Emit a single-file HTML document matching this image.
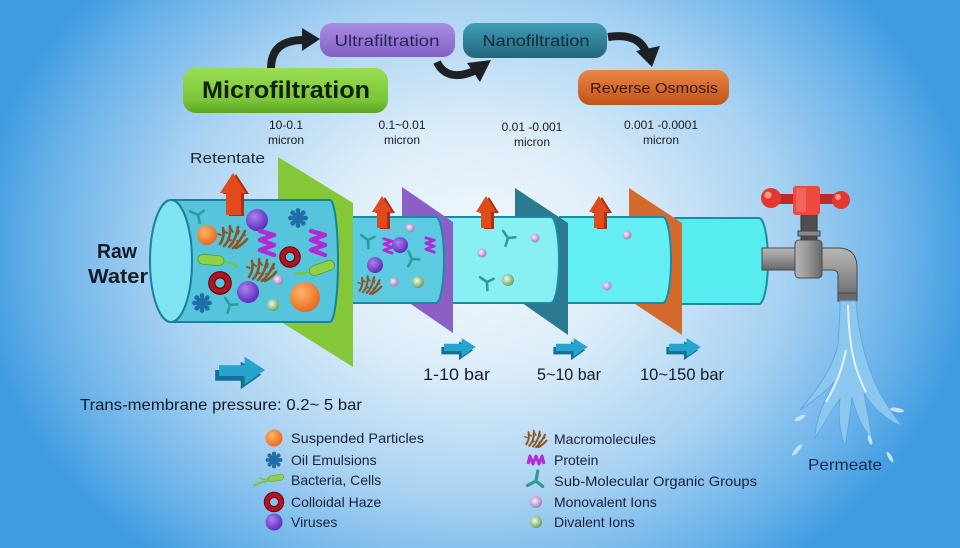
<!DOCTYPE html>
<html><head><meta charset="utf-8"><style>
html,body{margin:0;padding:0;}
body{width:960px;height:548px;overflow:hidden;background:radial-gradient(ellipse 500px 400px at 475px 250px,#f3f9fd 0%,#dcedf9 30%,#a9d2f2 62%,#6db4ea 85%,#3f9ce0 100%);}
svg{display:block;font-family:"Liberation Sans",sans-serif;}
</style></head><body>
<svg width="960" height="548" viewBox="0 0 960 548" xmlns="http://www.w3.org/2000/svg">
<defs>
<radialGradient id="gOr" cx="0.38" cy="0.35" r="0.7"><stop offset="0" stop-color="#ffb46a"/><stop offset="1" stop-color="#e5661a"/></radialGradient>
<radialGradient id="gPu" cx="0.38" cy="0.35" r="0.7"><stop offset="0" stop-color="#a883ee"/><stop offset="1" stop-color="#5b24b8"/></radialGradient>
<radialGradient id="gPk" cx="0.4" cy="0.4" r="0.65"><stop offset="0" stop-color="#fbeefb"/><stop offset="1" stop-color="#a172bb"/></radialGradient>
<radialGradient id="gGn" cx="0.4" cy="0.4" r="0.65"><stop offset="0" stop-color="#f2ffe6"/><stop offset="1" stop-color="#5e9a55"/></radialGradient>
<linearGradient id="bMicro" x1="0" y1="0" x2="0" y2="1"><stop offset="0" stop-color="#98de52"/><stop offset="0.7" stop-color="#7cc63a"/><stop offset="1" stop-color="#5aa522"/></linearGradient>
<linearGradient id="bUltra" x1="0" y1="0" x2="0" y2="1"><stop offset="0" stop-color="#a98ee2"/><stop offset="1" stop-color="#8160c6"/></linearGradient>
<linearGradient id="bNano" x1="0" y1="0" x2="0" y2="1"><stop offset="0" stop-color="#3f9db5"/><stop offset="1" stop-color="#23667c"/></linearGradient>
<linearGradient id="bRO" x1="0" y1="0" x2="0" y2="1"><stop offset="0" stop-color="#ea8644"/><stop offset="1" stop-color="#c0531b"/></linearGradient>
<linearGradient id="pipe" x1="0" y1="0" x2="0" y2="1"><stop offset="0" stop-color="#b8b8b8"/><stop offset="0.4" stop-color="#9a9a9a"/><stop offset="1" stop-color="#666"/></linearGradient>
<linearGradient id="pipeV" x1="0" y1="0" x2="1" y2="0"><stop offset="0" stop-color="#b5b5b5"/><stop offset="0.5" stop-color="#959595"/><stop offset="1" stop-color="#686868"/></linearGradient>

<g id="oil"><circle r="6" fill="#1f6ea8"/><g fill="#1f6ea8"><circle cx="0" cy="-7.5" r="2.4"/><circle cx="5.3" cy="-5.3" r="2.4"/><circle cx="7.5" cy="0" r="2.4"/><circle cx="5.3" cy="5.3" r="2.4"/><circle cx="0" cy="7.5" r="2.4"/><circle cx="-5.3" cy="5.3" r="2.4"/><circle cx="-7.5" cy="0" r="2.4"/><circle cx="-5.3" cy="-5.3" r="2.4"/></g></g>
<g id="ring"><circle r="7.5" fill="none" stroke="#5a0610" stroke-width="6.5"/><circle r="7.5" fill="none" stroke="#b3121e" stroke-width="4.5"/></g>
<g id="ysym" stroke="#2c9c98" stroke-width="2.6" stroke-linecap="round" fill="none"><path d="M0,0 L-6,-6 M0,0 L7,-2 M0,0 L-1,8"/></g>
<g id="macro" stroke="#8a5424" stroke-width="2.6" stroke-linecap="round" fill="none"><path d="M-13,7 Q-8,0 -10,-9 M-9,9 Q-2,2 -3,-11 M-4,10 Q3,3 5,-10 M0,11 Q7,5 12,-6 M3,11 Q9,8 14,2"/><path d="M-12,-2 l-3,-1 M-6,-4 l-3,-2 M0,-5 l-2,-3 M5,-3 l1,-3 M9,0 l3,-2 M-2,3 l-3,1 M4,4 l3,0" stroke-width="1.8"/></g>
<g id="protein"><polyline points="-7,-12 7,-8 -7,-3 7,2 -7,7 7,12" fill="none" stroke="#b22ad6" stroke-width="4.5" stroke-linejoin="round" stroke-linecap="round"/></g>
<g id="bact"><path d="M12,1 Q20,0 26,4" stroke="#7cc33a" stroke-width="2.5" fill="none" stroke-linecap="round"/><rect x="-13" y="-5" width="26" height="10" rx="5" fill="#8fd147" stroke="#5a9a25" stroke-width="0.8"/></g>
<g id="rArrow"><polygon points="0,-21 13,-1 8,-1 8,21 -7,21 -7,-1 -13,-1" fill="#a8300e" transform="translate(3,1)"/><polygon points="0,-21 13,-1 8,-1 8,21 -7,21 -7,-1 -13,-1" fill="#e04a1c"/></g>
<g id="rArrowS"><polygon points="0,-16 10,0 5,0 5,16 -5,16 -5,0 -10,0" fill="#a8300e" transform="translate(3,1)"/><polygon points="0,-16 10,0 5,0 5,16 -5,16 -5,0 -10,0" fill="#e04a1c"/></g>
<g id="bArrow"><polygon points="0,-4 20,-4 20,-11 36,0 20,12 20,5 0,5" fill="#136f96" transform="translate(-3,4)"/><polygon points="0,-4 20,-4 20,-11 36,0 20,12 20,5 0,5" fill="#26a4cd"/></g>
</defs>

<!-- top curved arrows -->
<g fill="none" stroke="#1d2125" stroke-width="8" stroke-linecap="butt">
<path d="M271,69 C271,50 281,40 304,40"/>
<path d="M437,62 C443,75 456,79 474,71"/>
<path d="M608,37 C628,34 641,39 646,52"/>
</g>
<g fill="#1d2125">
<polygon points="320,39 302,28 302,51"/>
<polygon points="491,60 467,63 480,82"/>
<polygon points="652,67 636,51 660,46"/>
</g>

<!-- boxes -->
<rect x="183" y="68" width="205" height="45" rx="13" fill="url(#bMicro)"/>
<text x="286" y="98" text-anchor="middle" font-size="24" font-weight="bold" fill="#13200c" textLength="168" lengthAdjust="spacingAndGlyphs">Microfiltration</text>
<rect x="320" y="23" width="135" height="34" rx="12" fill="url(#bUltra)"/>
<text x="387" y="46" text-anchor="middle" font-size="16" fill="#2a2452" textLength="105" lengthAdjust="spacingAndGlyphs">Ultrafiltration</text>
<rect x="463" y="23" width="144" height="35" rx="12" fill="url(#bNano)"/>
<text x="536" y="46" text-anchor="middle" font-size="16" fill="#10283a" textLength="107" lengthAdjust="spacingAndGlyphs">Nanofiltration</text>
<rect x="578" y="70" width="151" height="35" rx="12" fill="url(#bRO)"/>
<text x="654" y="93" text-anchor="middle" font-size="15" fill="#3a160a" textLength="128" lengthAdjust="spacingAndGlyphs">Reverse Osmosis</text>

<!-- micron labels -->
<g font-size="12" fill="#1a1a1a" text-anchor="middle">
<text x="286" y="129">10-0.1</text><text x="286" y="144">micron</text>
<text x="402" y="129">0.1~0.01</text><text x="402" y="144">micron</text>
<text x="532" y="131">0.01 -0.001</text><text x="532" y="146">micron</text>
<text x="661" y="129">0.001 -0.0001</text><text x="661" y="144">micron</text>
</g>

<text x="190" y="163" font-size="15" fill="#1a2433" textLength="75" lengthAdjust="spacingAndGlyphs">Retentate</text>
<text x="117" y="258" text-anchor="middle" font-size="20" font-weight="bold" fill="#141a26" textLength="40" lengthAdjust="spacingAndGlyphs">Raw</text>
<text x="118" y="283" text-anchor="middle" font-size="20" font-weight="bold" fill="#141a26" textLength="60" lengthAdjust="spacingAndGlyphs">Water</text>

<!-- cylinders & membranes (back to front) -->
<path d="M675,218 L759,218 A9,43 0 0 1 759,304 L675,304 Z" fill="#56ecf0" stroke="#1a8ba2" stroke-width="2"/>
<polygon points="629,188 682,223 682,335 629,300" fill="#d3692b"/>
<path d="M560,217 L663,217 A8,43 0 0 1 663,303 L560,303 Z" fill="#62eef2" stroke="#1a8ba2" stroke-width="2"/>
<polygon points="515,188 568,223 568,335 515,298" fill="#2b7a92"/>
<path d="M445,217 L551,217 A8,43 0 0 1 551,303 L445,303 Z" fill="#88eff2" stroke="#1a8ba2" stroke-width="2"/>
<polygon points="402,187 453,222 453,333 402,298" fill="#8b5fc6"/>
<path d="M340,217 L436,217 A8,43 0 0 1 436,303 L340,303 Z" fill="#5ccbe2" stroke="#1a8ba2" stroke-width="2"/>
<polygon points="278,157 353,203 353,367 278,320" fill="#84c83a"/>
<path d="M171,200 L330,200 A8,61 0 0 1 330,322 L171,322 Z" fill="#56c5dc" stroke="#15819b" stroke-width="2"/>
<ellipse cx="171" cy="261" rx="21" ry="61" fill="#80e3f1" stroke="#15819b" stroke-width="2"/>

<!-- retentate arrows -->
<use href="#rArrow" x="233" y="194"/>
<use href="#rArrowS" x="382" y="212"/>
<use href="#rArrowS" x="486" y="212"/>
<use href="#rArrowS" x="599" y="212"/>

<!-- cylinder 1 particles -->
<use href="#ysym" transform="translate(198,215) rotate(-20)"/>
<circle cx="207" cy="235" r="10" fill="url(#gOr)"/>
<use href="#macro" x="233" y="237"/>
<circle cx="257" cy="220" r="11" fill="url(#gPu)"/>
<use href="#protein" x="267" y="243"/>
<use href="#oil" x="298" y="218"/>
<use href="#protein" x="318" y="243"/>
<use href="#bact" transform="translate(211,260) rotate(5)"/>
<use href="#ring" x="290" y="257"/>
<use href="#macro" x="262" y="270"/>
<circle cx="278" cy="280" r="5" fill="url(#gPk)"/>
<use href="#bact" transform="translate(322,268) rotate(160)"/>
<use href="#ring" transform="translate(220,283) scale(1.1)"/>
<circle cx="248" cy="292" r="11" fill="url(#gPu)"/>
<circle cx="305" cy="297" r="15" fill="url(#gOr)"/>
<use href="#oil" x="202" y="303"/>
<use href="#ysym" transform="translate(230,305) rotate(10)"/>
<circle cx="273" cy="305" r="6" fill="url(#gGn)"/>

<!-- cylinder 2 particles -->
<use href="#ysym" transform="translate(368,240) rotate(-10)"/>
<use href="#protein" transform="translate(388,246) scale(0.6)"/>
<circle cx="400" cy="245" r="8" fill="url(#gPu)"/>
<circle cx="410" cy="228" r="4.5" fill="url(#gPk)"/>
<use href="#protein" transform="translate(430,245) scale(0.6)"/>
<use href="#ysym" transform="translate(412,259) rotate(20)"/>
<circle cx="375" cy="265" r="8" fill="url(#gPu)"/>
<use href="#macro" transform="translate(370,285) scale(0.8)"/>
<circle cx="394" cy="282" r="4.5" fill="url(#gPk)"/>
<circle cx="418" cy="282" r="6" fill="url(#gGn)"/>

<!-- cylinder 3 particles -->
<circle cx="482" cy="253" r="4.5" fill="url(#gPk)"/>
<use href="#ysym" transform="translate(508,238) rotate(10)"/>
<circle cx="535" cy="238" r="4.5" fill="url(#gPk)"/>
<use href="#ysym" transform="translate(487,282) rotate(-10)"/>
<circle cx="508" cy="280" r="6" fill="url(#gGn)"/>
<!-- cylinder 4 particles -->
<circle cx="627" cy="235" r="4.5" fill="url(#gPk)"/>
<circle cx="607" cy="286" r="4.5" fill="url(#gPk)"/>

<!-- faucet -->
<rect x="762" y="248" width="36" height="22" fill="url(#pipe)" stroke="#4a4a4a" stroke-width="1"/>
<path d="M820,248 L838,248 Q857,248 857,268 L857,300 L838,300 L838,275 Q838,270 832,270 L820,270 Z" fill="url(#pipe)" stroke="#4a4a4a" stroke-width="1"/>
<rect x="838" y="293" width="19" height="8" fill="#6a6a6a" stroke="#4a4a4a" stroke-width="1"/>
<rect x="801" y="212" width="16" height="30" fill="#4e4e4e" stroke="#333" stroke-width="1"/>
<rect x="798" y="231" width="22" height="5" fill="#8a8a8a" stroke="#444" stroke-width="1"/>
<rect x="795" y="240" width="27" height="38" rx="4" fill="url(#pipeV)" stroke="#4a4a4a" stroke-width="1"/>
<rect x="770" y="194" width="72" height="10" fill="#c02a24"/>
<circle cx="771" cy="198" r="10" fill="#e2382f"/><circle cx="768" cy="195" r="3.5" fill="#f59a90"/>
<circle cx="841" cy="200" r="9" fill="#e2382f"/><circle cx="838" cy="197" r="3" fill="#f59a90"/>
<rect x="793" y="186" width="27" height="29" rx="3" fill="#ec4a3e"/>
<rect x="796" y="188" width="10" height="24" fill="#f47a6e" opacity="0.6"/>

<!-- water -->
<path d="M840,301 L856,301 C858,330 864,362 880,393 C888,408 896,418 902,426 C886,420 872,407 864,393 C867,410 870,425 872,440 C861,426 855,412 852,397 C850,415 848,430 845,446 C839,430 838,415 840,399 C830,412 823,426 815,438 C815,420 825,400 834,382 C826,392 812,402 800,410 C815,392 832,370 838,345 C839,330 840,315 840,301 Z" fill="#8cc7f0" stroke="#5ea8e2" stroke-width="1"/>
<path d="M848,305 C849,340 852,365 866,392 M846,350 C842,370 836,385 826,402" stroke="#eaf6ff" stroke-width="2" fill="none" opacity="0.9"/>
<g fill="#c2e4fb">
<ellipse cx="800" cy="418" rx="6" ry="2" transform="rotate(-25 800 418)"/>
<ellipse cx="897" cy="410" rx="7" ry="2.2" transform="rotate(10 897 410)"/>
<ellipse cx="797" cy="450" rx="7" ry="2" transform="rotate(-50 797 450)"/>
<ellipse cx="870" cy="440" rx="5" ry="1.8" transform="rotate(70 870 440)"/>
<ellipse cx="890" cy="457" rx="6" ry="1.8" transform="rotate(60 890 457)"/>
</g>
<text x="845" y="470" text-anchor="middle" font-size="16" fill="#1a2a4a" textLength="74" lengthAdjust="spacingAndGlyphs">Permeate</text>

<!-- flow arrows -->
<use href="#bArrow" transform="translate(219,370) scale(1.28,1.2)"/>
<use href="#bArrow" transform="translate(444,347) scale(0.88,0.82)"/>
<use href="#bArrow" transform="translate(556,347) scale(0.88,0.82)"/>
<use href="#bArrow" transform="translate(669,347) scale(0.88,0.82)"/>

<g font-size="17" fill="#141a26">
<text x="423" y="380" textLength="67" lengthAdjust="spacingAndGlyphs">1-10 bar</text>
<text x="537" y="380" textLength="64" lengthAdjust="spacingAndGlyphs">5~10 bar</text>
<text x="640" y="380" textLength="84" lengthAdjust="spacingAndGlyphs">10~150 bar</text>
</g>
<text x="80" y="410" font-size="16" fill="#141a26" textLength="282" lengthAdjust="spacingAndGlyphs">Trans-membrane pressure: 0.2~ 5 bar</text>

<!-- legend -->
<circle cx="274" cy="438" r="8.5" fill="url(#gOr)"/>
<use href="#oil" transform="translate(274,460) scale(0.85)"/>
<use href="#bact" transform="translate(276,478) rotate(170) scale(0.6)"/>
<path d="M268,481 Q260,482 253,486" stroke="#7cc33a" stroke-width="2" fill="none"/>
<use href="#ring" transform="translate(274,502) scale(0.95)"/>
<circle cx="274" cy="522" r="8.5" fill="url(#gPu)"/>
<use href="#macro" transform="translate(536,439) scale(0.75)"/>
<polyline points="528,464 530,456 533,464 536,456 539,464 542,456 544,464" fill="none" stroke="#b22ad6" stroke-width="3" stroke-linejoin="round"/>
<use href="#ysym" transform="translate(536,481) rotate(55) scale(1.2)"/>
<circle cx="536" cy="502" r="6" fill="url(#gPk)"/>
<circle cx="536" cy="522" r="6" fill="url(#gGn)"/>
<g font-size="14" fill="#1a1f3a">
<text x="291" y="443" textLength="133" lengthAdjust="spacingAndGlyphs">Suspended Particles</text>
<text x="291" y="465">Oil Emulsions</text>
<text x="291" y="485">Bacteria, Cells</text>
<text x="291" y="507">Colloidal Haze</text>
<text x="291" y="527">Viruses</text>
<text x="554" y="444">Macromolecules</text>
<text x="554" y="465">Protein</text>
<text x="554" y="486" textLength="203" lengthAdjust="spacingAndGlyphs">Sub-Molecular Organic Groups</text>
<text x="554" y="507">Monovalent Ions</text>
<text x="554" y="527">Divalent Ions</text>
</g>
</svg>
</body></html>
